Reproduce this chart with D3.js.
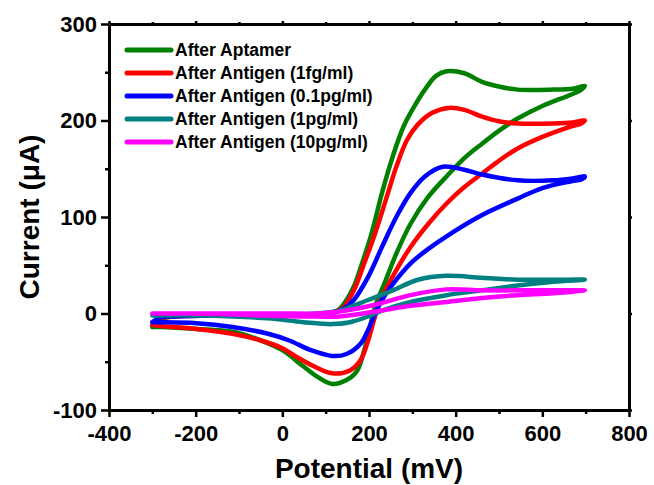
<!DOCTYPE html>
<html>
<head>
<meta charset="utf-8">
<script src="https://cdn.jsdelivr.net/npm/d3@7"></script>
<style>
  body { margin: 0; background: #fff; }
  text { font-family: "Liberation Sans", Arial, sans-serif; font-weight: bold; }
</style>
</head>
<body>
<div id="chart"></div>
<script>
// series names + colours (legend order)
var names = ["After Aptamer", "After Antigen (1fg/ml)", "After Antigen (0.1pg/ml)", "After Antigen (1pg/ml)", "After Antigen (10pg/ml)"];
var colors = ["#008000", "#ff0000", "#0000ff", "#008080", "#ff00ff"];

// each loop: forward scan -300 -> 700 mV, then reverse 700 -> -300 mV   [mV, uA]
var aptamer = [[-300,-14],[-280,-6],[-250,-3],[-150,-2],[-50,-1],[50,-1],[100,0],[130,4],[148,14],[165,28],[181,48],[206,83],[230,125],[255,163],[280,194],[305,215],[329,232],[354,246],[379,251],[420,249],[461,240],[502,235],[543,232],[625,232],[670,233],[698,236],
  [690,232],[667,227],[600,215],[543,202],[502,190],[461,176],[420,161],[379,142],[337,121],[296,93],[263,62],[239,35],[214,7],[206,-7],[189,-38],[173,-59],[148,-69],[115,-73],[82,-66],[49,-55],[0,-38],[-49,-28],[-115,-19],[-198,-16],[-280,-14],[-300,-14]];
var fg1 = [[-300,-12],[-280,-5],[-250,-3],[-150,-2],[-50,-1],[50,-1],[110,0],[140,6],[165,24],[189,52],[214,83],[239,118],[263,152],[288,180],[313,196],[346,208],[383,213],[420,211],[461,204],[502,199],[543,197],[625,197],[670,198],[698,200],
  [690,197],[667,194],[600,183],[543,171],[502,159],[461,145],[420,131],[379,114],[337,93],[296,69],[263,45],[230,17],[214,-3],[198,-28],[181,-48],[156,-59],[115,-62],[74,-55],[33,-45],[0,-36],[-49,-28],[-115,-21],[-198,-16],[-280,-13],[-300,-12]];
var pg01 = [[-300,-9],[-280,-4],[-250,-3],[-150,-2],[-50,-1],[50,-1],[120,1],[145,6],[165,14],[198,38],[230,69],[263,100],[296,125],[329,142],[370,152],[420,149],[461,144],[543,138],[625,138],[670,140],[698,142],
  [690,139],[667,137],[600,130],[543,119],[461,102],[379,80],[337,67],[296,52],[263,35],[230,14],[214,0],[198,-17],[181,-31],[148,-42],[115,-44],[66,-38],[16,-28],[-33,-21],[-115,-14],[-198,-10],[-280,-9],[-300,-9]];
var pg1 = [[-300,-2],[-200,-1],[-100,-1],[0,-1],[80,0],[132,3],[198,14],[255,24],[313,35],[379,39],[461,37],[543,35],[625,35],[698,35],
  [625,33],[543,29],[461,24],[379,19],[296,12],[230,3],[198,-3],[156,-9],[115,-11],[49,-9],[-33,-5],[-115,-3],[-200,-2],[-300,-2]];
var pg10 = [[-300,0],[-200,0],[-100,0],[0,0],[80,0],[132,2],[214,9],[296,19],[379,25],[461,24],[543,24],[625,24],[698,24],
  [625,21],[543,19],[461,16],[379,12],[296,8],[214,2],[132,-3],[49,-3],[-115,-1],[-200,0],[-300,0]];
var series = [aptamer, fg1, pg01, pg1, pg10];

var xTicks = [-400, -200, 0, 200, 400, 600, 800];
var yTicks = [-100, 0, 100, 200, 300];

const W = 654, H = 485;
const margin = {left: 109, top: 24, right: 25, bottom: 75};
const pw = W - margin.left - margin.right;
const ph = H - margin.top - margin.bottom;

var svg = d3.select("#chart").append("svg")
  .attr("width", W)
  .attr("height", H);

var x = d3.scaleLinear().domain([-400, 800]).range([0, pw]);
var y = d3.scaleLinear().domain([-100, 300]).range([ph, 0]);

var g = svg.append("g").attr("transform", "translate(" + margin.left + "," + margin.top + ")");

// curves first, frame on top
var line = d3.line()
  .x(function(d) { return x(d[0]); })
  .y(function(d) { return y(d[1]); })
  .curve(d3.curveCatmullRom.alpha(0.5));

series.forEach(function(s, i) {
  g.append("path")
    .datum(s)
    .attr("d", line)
    .style("fill", "none")
    .style("stroke", colors[i])
    .style("stroke-width", 4.5)
    .style("stroke-linejoin", "round")
    .style("stroke-linecap", "round");
});

// minor ticks (half steps)
var xMinor = d3.range(-300, 800, 200);
var yMinor = d3.range(-50, 300, 100);

function plain(d) { return String(d); } // hyphen minus like the original

function styleAxis(sel) {
  sel.select(".domain").style("stroke", "#000").style("stroke-width", 3);
  sel.selectAll(".tick line").style("stroke", "#000").style("stroke-width", 2.5);
  sel.selectAll(".tick text").style("font-size", "22px").style("fill", "#000");
}

g.append("g").attr("transform", "translate(0," + ph + ")")
  .call(d3.axisBottom(x).tickValues(xTicks).tickSize(7).tickPadding(8).tickSizeOuter(0).tickFormat(plain))
  .call(styleAxis);
g.append("g")
  .call(d3.axisLeft(y).tickValues(yTicks).tickSize(8).tickPadding(4).tickSizeOuter(0).tickFormat(plain))
  .call(styleAxis);
g.append("g")
  .call(d3.axisTop(x).tickValues(xTicks).tickSize(3).tickSizeOuter(0).tickFormat(""))
  .call(styleAxis);
g.append("g").attr("transform", "translate(" + pw + ",0)")
  .call(d3.axisRight(y).tickValues(yTicks).tickSize(3).tickSizeOuter(0).tickFormat(""))
  .call(styleAxis);

// minor ticks
g.append("g").attr("transform", "translate(0," + ph + ")")
  .call(d3.axisBottom(x).tickValues(xMinor).tickSize(4).tickFormat("")).call(styleAxis)
  .select(".domain").remove();
g.append("g")
  .call(d3.axisLeft(y).tickValues(yMinor).tickSize(4).tickFormat("")).call(styleAxis)
  .select(".domain").remove();
g.append("g")
  .call(d3.axisTop(x).tickValues(xMinor).tickSize(2).tickFormat("")).call(styleAxis)
  .select(".domain").remove();
g.append("g").attr("transform", "translate(" + pw + ",0)")
  .call(d3.axisRight(y).tickValues(yMinor).tickSize(2).tickFormat("")).call(styleAxis)
  .select(".domain").remove();

// axis titles
svg.append("text")
  .attr("x", margin.left + pw / 2)
  .attr("y", 478)
  .attr("text-anchor", "middle")
  .style("font-size", "28px")
  .text("Potential (mV)");

svg.append("text")
  .attr("transform", "translate(39," + (margin.top + ph / 2) + ") rotate(-90)")
  .attr("text-anchor", "middle")
  .style("font-size", "28px")
  .text("Current (\u03bcA)");

// legend
var legend = g.append("g").attr("transform", "translate(18,26)");
names.forEach(function(n, i) {
  var row = legend.append("g").attr("transform", "translate(0," + (i * 23) + ")");
  row.append("line")
    .attr("x1", 0).attr("x2", 44)
    .style("stroke", colors[i])
    .style("stroke-width", 5)
    .style("stroke-linecap", "round");
  row.append("text")
    .attr("x", 48)
    .attr("y", 6)
    .style("font-size", "17.5px")
    .text(n);
});
</script>
</body>
</html>
